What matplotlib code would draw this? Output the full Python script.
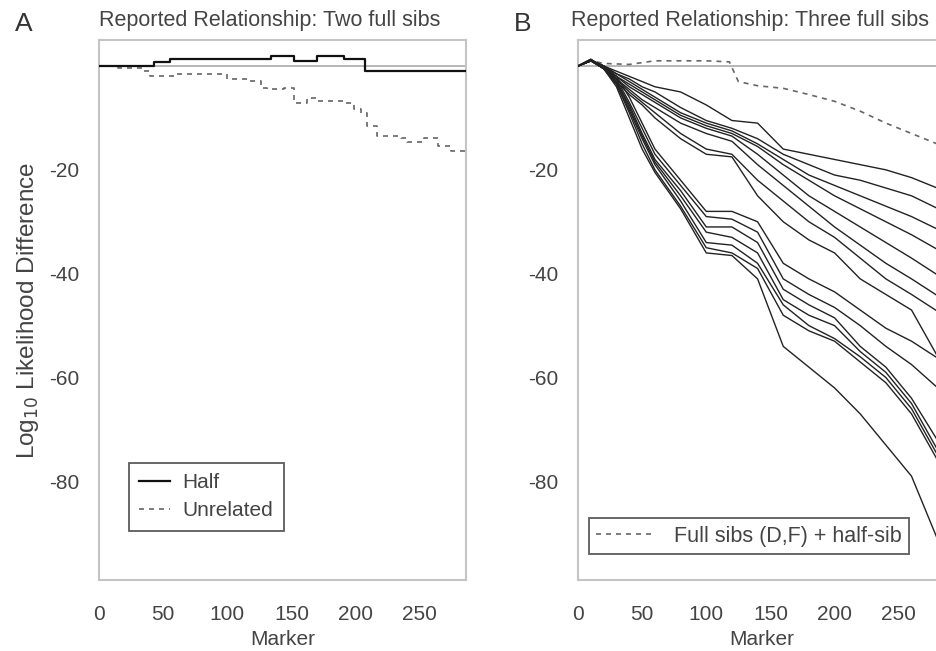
import matplotlib
matplotlib.use("Agg")
import matplotlib.pyplot as plt

plt.rcParams['font.family'] = ['Liberation Sans', 'DejaVu Sans']
plt.rcParams['axes.unicode_minus'] = False

# panel A : two full sibs
half_x = [0, 43, 55, 134, 152, 170, 191, 207, 286]
half_y = [0, 0.7, 1.3, 2, 1, 2, 1.3, -0.9, -0.9]

unrel_x = [0, 15, 35, 40, 60, 88, 100, 116, 126, 131, 144, 152, 162, 170, 191, 199,
           204, 209, 217, 235, 240, 253, 264, 274, 286]
unrel_y = [0, -0.3, -1, -1.9, -1.6, -1.6, -2.6, -2.9, -4.2, -4.5, -4.2, -7.1, -6.2, -6.8,
           -7.1, -8.3, -9, -11.5, -13.5, -13.8, -14.7, -13.8, -15.4, -16.3, -17]

# panel B : three full sibs
mk = [0, 10, 20, 30, 40, 50, 60, 80, 100, 120, 140, 160, 180, 200, 220, 240, 260, 285]
upper = [
    [0, 1, 0, -1, -2, -3, -4, -5, -7.5, -10.5, -11, -16, -17, -18, -19, -20, -21.5, -24],
    [0, 1, 0, -1.5, -2.5, -4, -5, -8, -10.5, -12, -14, -17, -19, -21, -22, -23.5, -25, -28],
    [0, 1.2, 0, -1.5, -3, -4.5, -6, -9, -11, -12.5, -15, -18, -21, -23, -25, -27, -29, -32],
    [0, 1, 0, -2, -3.5, -5, -6.5, -9.5, -11.5, -13, -15.5, -19, -22, -25, -27.5, -30, -32.5, -36],
    [0, 1.3, -0.5, -2, -4, -5.5, -7, -10, -12, -13.5, -17, -21, -25, -28, -31, -34, -37, -41],
    [0, 1, -0.5, -2.5, -4.5, -6.5, -8, -11, -13, -14.5, -19, -23, -27, -31, -34.5, -38, -41, -45],
    [0, 1.2, -0.5, -2.5, -5, -7, -9, -13, -16, -17, -22, -26, -30, -33, -37, -41, -44, -48],
    [0, 1, -0.5, -3, -5.5, -7.5, -10, -14, -17, -17.5, -25, -30, -33.5, -36, -41, -44, -47, -58],
]
lower = [
    [0, 1, 0, -2, -6, -11, -16, -22, -28, -28, -30, -38, -41, -43.5, -47, -50.5, -53, -57],
    [0, 1.2, 0, -2.5, -7, -12, -17, -23, -29, -29.5, -32, -41, -44, -46.5, -50, -54, -57.5, -63],
    [0, 1, 0, -3, -7.5, -13, -18, -24, -31, -31, -34, -43, -46, -48.5, -54, -58, -64, -74],
    [0, 1.3, -0.5, -3, -8, -13.5, -18.5, -25, -32, -33, -36, -45, -48, -50, -55, -59, -65, -76],
    [0, 1, -0.5, -3.5, -8.5, -14, -19, -26, -34, -34.5, -38, -46, -50, -52.5, -56, -60, -66, -77],
    [0, 1.2, -0.5, -3.5, -9, -15, -20, -27, -35, -36, -39, -48, -51, -53, -57, -61, -67, -78],
    [0, 1, -0.5, -4, -10, -16, -20.5, -27.5, -36, -36.5, -41, -54, -58, -62, -67, -73, -79, -94],
]
fsh_x = [0, 10, 20, 40, 60, 80, 100, 118, 125, 140, 160, 180, 200, 220, 240, 260, 285]
fsh_y = [0, 1, 0.5, 0.3, 1, 1, 1, 0.8, -3, -3.8, -4.3, -5.5, -6.8, -8.7, -11, -13, -15.5]

yticks = [-20, -40, -60, -80]
xticks = [0, 50, 100, 150, 200, 250]

fig = plt.figure(figsize=(9.36, 6.51), dpi=100)
axA = fig.add_axes([0.1058, 0.109, 0.392, 0.8295])
axB = fig.add_axes([0.6175, 0.109, 0.392, 0.8295])

txt = '#444444'
for ax in (axA, axB):
    ax.set_xlim(0, 286)
    ax.set_ylim(-99, 5)
    ax.axhline(0, color='#aaaaaa', lw=1.2, zorder=1)
    ax.set_xticks(xticks)
    ax.set_yticks(yticks)
    ax.tick_params(length=0, labelsize=15, colors=txt)
    ax.tick_params(axis='x', pad=18)
    ax.tick_params(axis='y', pad=14)
    for s in ax.spines.values():
        s.set_color('#c4c4c4')
        s.set_linewidth(1.5)
    ax.set_xlabel('Marker', fontsize=15, color=txt, labelpad=4)

axA.plot(half_x, half_y, drawstyle='steps-post', color='#111111', lw=1.6, label='Half', zorder=3)
axA.plot(unrel_x, unrel_y, drawstyle='steps-post', color='#666666', lw=1.2,
         dashes=(3, 3), label='Unrelated', zorder=2)
axA.set_ylabel('Log$_{10}$ Likelihood Difference', fontsize=17.5, color=txt, labelpad=6)
axA.set_title('Reported Relationship: Two full sibs', fontsize=15.5, color=txt, loc='left', pad=10)
legA = axA.legend(loc='lower left', bbox_to_anchor=(0.052, 0.072), fontsize=15, frameon=True,
                  fancybox=False, handlelength=1.5, borderpad=0.5, labelspacing=0.45,
                  handletextpad=0.6)
legA.get_frame().set_edgecolor('#333333')
legA.get_frame().set_linewidth(1.3)
for t in legA.get_texts():
    t.set_color(txt)

for ys in upper + lower:
    axB.plot(mk, ys, color='#222222', lw=1.0, zorder=3)
axB.plot(fsh_x, fsh_y, color='#666666', lw=1.2, dashes=(3, 3),
         label='Full sibs (D,F) + half-sib', zorder=2)
axB.set_title('Reported Relationship: Three full sibs', fontsize=15.5, color=txt, loc='left', pad=10,
              x=-0.02)
legB = axB.legend(loc='lower left', bbox_to_anchor=(0.0, 0.028), fontsize=15.5, frameon=True,
                  fancybox=False, handlelength=2.6, borderpad=0.35, handletextpad=1.0)
legB.get_frame().set_edgecolor('#333333')
legB.get_frame().set_linewidth(1.3)
for t in legB.get_texts():
    t.set_color(txt)

fig.text(0.016, 0.952, 'A', fontsize=19, color='#333333')
fig.text(0.549, 0.952, 'B', fontsize=19, color='#333333')

fig.savefig('out.png', dpi=100)
